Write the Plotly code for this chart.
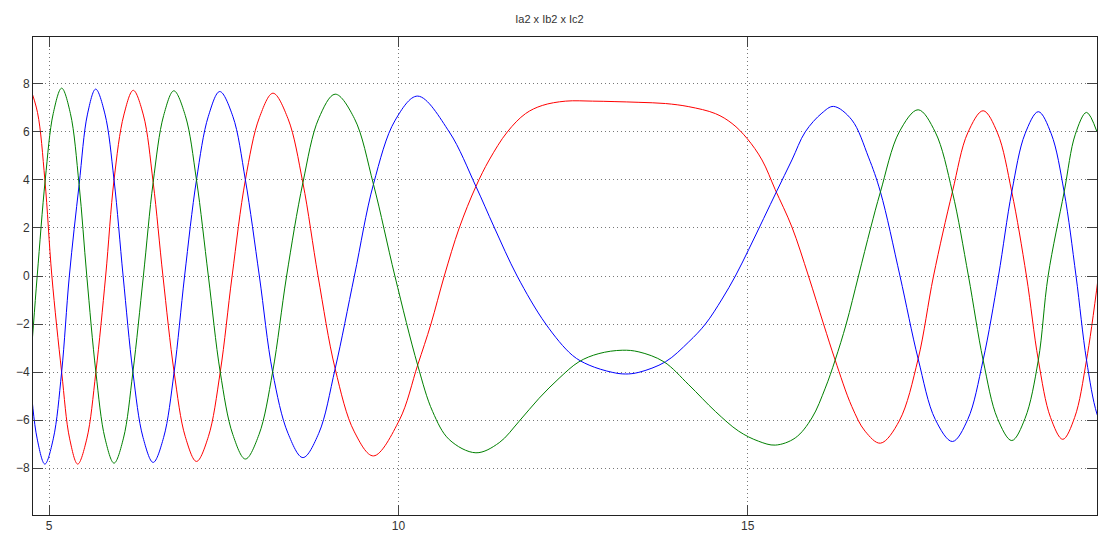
import plotly.graph_objects as go

# Phase currents Ia2, Ib2, Ic2 sampled along time (s)
ia_t = [4.725, 4.835, 4.94, 5.04, 5.18, 5.295, 5.41, 5.54, 5.67, 5.81, 5.93, 6.07, 6.205, 6.35,
        6.49, 6.63, 6.79, 6.95, 7.11, 7.28, 7.45, 7.62, 7.81, 8.01, 8.205, 8.42, 8.633, 8.85,
        9.095, 9.37, 9.643, 10.014, 10.276, 10.466, 10.657, 10.871, 11.11, 11.30, 11.56,
        11.82, 12.06, 12.395, 12.78, 13.10, 13.443, 13.824, 14.157, 14.538, 14.776, 14.99,
        15.205, 15.395, 15.633, 15.87, 16.086, 16.252, 16.49, 16.68, 16.9, 17.17, 17.44,
        17.66, 17.93, 18.15, 18.37, 18.575, 18.78, 18.99, 19.16, 19.335, 19.51, 19.68,
        19.85, 20.02]
ia_val = [7.87, 6.80, 4.0, 0.0, -4.0, -6.78, -7.83, -6.78, -4.0, 0.0, 4.0, 6.70, 7.73, 6.70,
          3.9, 0.0, -4.0, -6.69, -7.72, -6.69, -4.0, 0.0, 4.0, 6.59, 7.61, 6.55, 3.88, 0.0,
          -3.86, -6.49, -7.49, -6.0, -3.71, -2.0, 0.0, 2.0, 3.73, 4.83, 6.0,
          6.76, 7.1, 7.28, 7.28, 7.26, 7.23, 7.18, 7.05, 6.76, 6.35, 5.73,
          4.83, 3.59, 2.04, 0.0, -2.0, -3.5, -5.43, -6.46, -6.96, -6.03, -3.45,
          0.0, 3.5, 5.96, 6.88, 5.96, 3.5, 0.0, -3.5, -5.89, -6.8, -5.89,
          -3.5, 0.0]

ib_t = [4.61, 4.72, 4.83, 4.94, 5.06, 5.18, 5.29, 5.43, 5.55, 5.667, 5.80, 5.93, 6.06, 6.2,
        6.345, 6.49, 6.64, 6.79, 6.94, 7.11, 7.28, 7.443, 7.63, 7.81, 8.01, 8.2, 8.42, 8.633,
        8.86, 9.095, 9.37, 9.643, 9.955, 10.276, 10.728, 11.11, 11.37, 11.70, 12.11, 12.49,
        12.73, 13.06, 13.25, 13.443, 13.824, 14.157, 14.395, 14.633, 14.824, 15.014, 15.229,
        15.419, 15.633, 15.824, 16.062, 16.229, 16.49, 16.729, 16.9, 17.18, 17.44, 17.685,
        17.93, 18.15, 18.37, 18.59, 18.78, 18.97, 19.16, 19.345, 19.53, 19.7, 19.85, 20.0,
        20.15]
ib_val = [0.0, -4.0, -6.78, -7.83, -6.78, -4.0, 0.0, 3.8, 6.74, 7.78, 6.74, 4.0, 0.0, -4.0,
          -6.72, -7.76, -6.72, -4.0, 0.0, 4.0, 6.65, 7.68, 6.65, 4.0, 0.0, -4.0, -6.55, -7.56,
          -6.55, -3.86, 0.0, 3.82, 6.49, 7.49, 6.0, 3.73, 2.04, 0.0, -2.0, -3.3,
          -3.71, -4.01, -4.08, -4.01, -3.57, -2.74, -2.0, -0.96, 0.0, 1.1, 2.4,
          3.55, 4.83, 6.0, 6.78, 7.06, 6.5, 4.95, 3.5, 0.0, -3.45, -5.97,
          -6.89, -5.97, -3.5, 0.0, 3.5, 5.92, 6.84, 5.92, 3.5, 0.0, -3.5, -5.75,
          -6.78]

ic_t = [4.50, 4.61, 4.72, 4.83, 4.945, 5.06, 5.18, 5.305, 5.43, 5.54, 5.67, 5.80, 5.93, 6.065,
        6.2, 6.35, 6.49, 6.64, 6.786, 6.95, 7.11, 7.28, 7.45, 7.63, 7.81, 8.005, 8.2, 8.4,
        8.633, 8.86, 9.095, 9.37, 9.643, 9.95, 10.276, 10.49, 10.728, 11.11, 11.443, 11.728,
        12.014, 12.30, 12.585, 12.87, 13.205, 13.443, 13.8, 14.157, 14.538, 14.871, 15.157,
        15.395, 15.681, 15.919, 16.11, 16.252, 16.41, 16.586, 16.76, 16.9, 17.17, 17.44,
        17.685, 17.93, 18.16, 18.37, 18.575, 18.78, 18.97, 19.16, 19.3, 19.53, 19.69, 19.85,
        20.0]
ic_val = [-7.9, -6.8, -4.0, 0.0, 4.0, 6.77, 7.82, 6.77, 3.8, 0.0, -4.0, -6.75, -7.79, -6.75,
          -4.0, 0.0, 3.9, 6.68, 7.71, 6.68, 4.0, 0.0, -4.0, -6.6, -7.62, -6.6, -4.0, 0.0,
          3.88, 6.56, 7.57, 6.56, 3.82, 0.0, -3.71, -5.64, -6.81, -7.36, -6.94, -6.05,
          -5.09, -4.26, -3.57, -3.23, -3.09, -3.16, -3.57, -4.53, -5.64, -6.46, -6.88,
          -7.04, -6.74, -5.91, -4.67, -3.5, -2.0, 0.0, 2.0, 3.5, 6.0, 6.92,
          5.99, 3.5, 0.0, -3.5, -5.93, -6.85, -5.93, -3.5, 0.0, 3.5, 5.9, 6.81,
          6.0]

y_ticks = [-8, -6, -4, -2, 0, 2, 4, 6, 8]
x_ticks = [5, 10, 15, 20]

fig = go.Figure()
for t, v, color, name in [(ia_t, ia_val, "#ff0000", "Ia2"),
                          (ib_t, ib_val, "#0000ff", "Ib2"),
                          (ic_t, ic_val, "#008000", "Ic2")]:
    fig.add_trace(go.Scatter(x=t, y=v, mode="lines", name=name,
                             line=dict(color=color, width=1, shape="spline", smoothing=1.0)))

axis_common = dict(
    showline=True, linecolor="#222222", linewidth=1, mirror="ticks",
    ticks="inside", ticklen=10, tickcolor="#444444", tickwidth=1,
    showgrid=True, gridcolor="#777777", griddash="1px,3px", gridwidth=1,
    zeroline=False,
    tickfont=dict(family="Liberation Sans, Arial, sans-serif", size=12, color="#333333"),
)

fig.update_layout(
    width=1099, height=534,
    margin=dict(l=33, r=1, t=37, b=17),
    paper_bgcolor="white", plot_bgcolor="white",
    showlegend=False,
    title=dict(text="Ia2 x Ib2 x Ic2", x=0.5, xanchor="center", y=0.965, yanchor="middle",
               font=dict(family="Liberation Sans, Arial, sans-serif", size=11, color="#333333")),
    xaxis=dict(range=[4.77, 20.0], tickvals=x_ticks, **axis_common),
    yaxis=dict(range=[-9.95, 9.95], tickvals=y_ticks, **axis_common),
)

fig.write_html("out.html")
